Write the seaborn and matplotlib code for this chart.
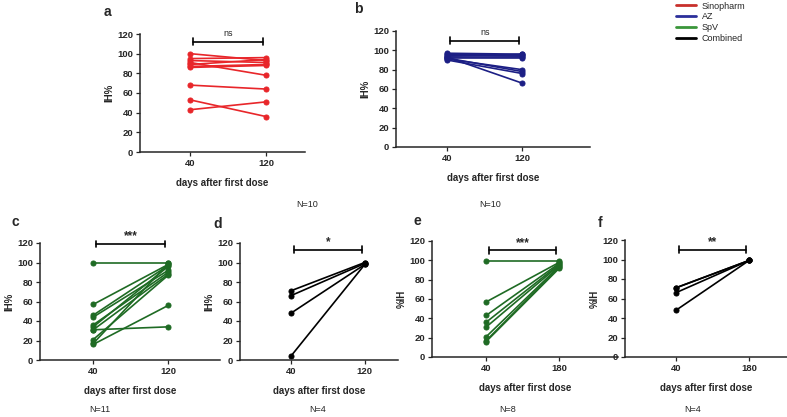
import pandas as pd
import matplotlib
matplotlib.use("Agg")
import matplotlib.pyplot as plt
import seaborn as sns
from matplotlib.lines import Line2D

# data (IH% per subject, early vs late time point)
sino_40 = [100, 95, 93, 91, 89, 87, 86, 68, 53, 43]
sino_120 = [93, 96, 91, 78, 94, 89, 88, 64, 36, 51]
az_40 = [97, 96, 95, 94, 93, 92, 91, 92, 90, 93]
az_120 = [96, 95, 94, 96, 93, 92, 80, 78, 76, 66]
spv_40 = [99, 57, 46, 44, 36, 34, 31, 31, 21, 17, 16]
spv_120 = [99, 98, 97, 92, 90, 96, 88, 34, 87, 99, 56]
comb_40 = [71, 66, 48, 4]
comb_120 = [100, 99, 98, 98]
spv_40b = [99, 57, 43, 36, 31, 21, 17, 16]
spv_180b = [99, 98, 97, 96, 95, 94, 93, 92]
comb_40b = [71, 71, 66, 48]
comb_180b = [99, 99, 99, 99]

legend_labels = ["Sinopharm", "AZ", "SpV", "Combined"]
legend_colors = ["#c8302c", "#2b2f9a", "#3a963a", "#000000"]

sns.set_style("ticks")
plt.rcParams["font.family"] = ["Liberation Sans", "DejaVu Sans"]

W, H = 787, 417
fig = plt.figure(figsize=(W / 100, H / 100), dpi=100)


def px_axes(x0, x1, y_top, y_bot):
    return fig.add_axes([x0 / W, 1 - y_bot / H, (x1 - x0) / W, (y_bot - y_top) / H])


def panel(rect, pre, post, days, color, letter, stars, ylab, bar_y, xr, nlab):
    ax = px_axes(*rect)
    rows = []
    for i, (a, b) in enumerate(zip(pre, post)):
        rows.append({"pos": 0, "val": a, "sub": i})
        rows.append({"pos": 1, "val": b, "sub": i})
    df = pd.DataFrame(rows)
    sns.lineplot(data=df, x="pos", y="val", units="sub", estimator=None,
                 marker="o", color=color, lw=1.2, ms=3.6, mec=color, ax=ax)
    ax.set_xlim(*xr)
    ax.set_ylim(0, 120)
    ax.set_yticks(range(0, 121, 20))
    ax.set_xticks([0, 1])
    ax.set_xticklabels(days)
    for lab in ax.get_xticklabels() + ax.get_yticklabels():
        lab.set_fontweight("bold")
    ax.tick_params(labelsize=6.8, length=3, width=0.9, pad=2)
    ax.set_xlabel("days after first dose", fontsize=7, fontweight="bold", labelpad=7)
    ax.set_ylabel(ylab, fontsize=7, fontweight="bold", labelpad=2)
    sns.despine(ax=ax)
    for s in ["left", "bottom"]:
        ax.spines[s].set_linewidth(1.1)
    # significance bracket
    ax.plot([0.04, 0.96], [bar_y, bar_y], color="black", lw=1.2, clip_on=False)
    for xx in (0.04, 0.96):
        ax.plot([xx, xx], [bar_y - 3.5, bar_y + 3.5], color="black", lw=1.2, clip_on=False)
    if stars == "ns":
        ax.text(0.5, bar_y + 4, stars, ha="center", va="bottom", fontsize=6.5)
    else:
        ax.text(0.5, bar_y + 1.5, stars, ha="center", va="bottom", fontsize=8.5, fontweight="bold")
    fig.text(nlab[0] / W, 1 - nlab[1] / H, nlab[2], ha="center", va="center", fontsize=6.5)
    fig.text(letter[0] / W, 1 - letter[1] / H, letter[2], ha="center", va="center",
             fontsize=10, fontweight="bold")
    return ax


red = "#e8262a"
navy = "#1c1f85"
green = "#1f6b24"
black = "#000000"

panel((140, 305, 34, 152), sino_40, sino_120, ["40", "120"], red,
      (107, 12, "a"), "ns", "IH%", 112, (-0.66, 1.51), (307, 204, "N=10"))
panel((396, 590, 31, 147), az_40, az_120, ["40", "120"], navy,
      (358, 9, "b"), "ns", "IH%", 110, (-0.68, 1.9), (490, 204, "N=10"))
panel((40, 220, 243, 360), spv_40, spv_120, ["40", "120"], green,
      (15, 222, "c"), "***", "IH%", 119, (-0.71, 1.69), (100, 410, "N=11"))
panel((240, 398, 243, 360), comb_40, comb_120, ["40", "120"], black,
      (218, 224, "d"), "*", "IH%", 113, (-0.69, 1.45), (318, 410, "N=4"))
panel((432, 618, 241, 357), spv_40b, spv_180b, ["40", "180"], green,
      (417, 221, "e"), "***", "%IH", 110.5, (-0.74, 1.8), (508, 409, "N=8"))
panel((625, 787, 240, 357), comb_40b, comb_180b, ["40", "180"], black,
      (600, 223, "f"), "**", "%IH", 110, (-0.7, 1.52), (693, 409, "N=4"))

handles = [Line2D([], [], color=c, lw=2) for c in legend_colors]
fig.legend(handles, legend_labels, loc="upper left", bbox_to_anchor=(672 / W, 1.005),
           frameon=False, fontsize=6.5, handlelength=2.3, labelspacing=0.2,
           handletextpad=0.6, borderaxespad=0)

fig.savefig("out.png", dpi=100)
